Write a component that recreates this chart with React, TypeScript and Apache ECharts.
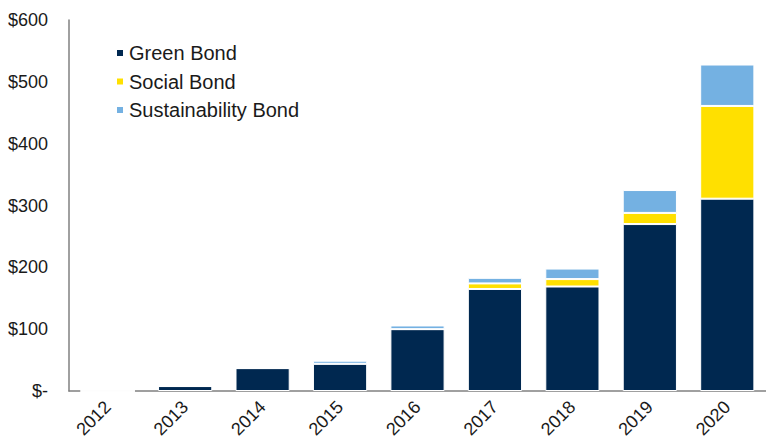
import React, { useEffect, useRef } from "react";
import * as echarts from "echarts";

const years = ["2012", "2013", "2014", "2015", "2016", "2017", "2018", "2019", "2020"];
const greenBond = [0, 8, 37, 44, 100, 165, 169, 270, 311];
const socialBond = [0, 0, 0, 0, 0, 9, 12, 18, 150];
const sustainabilityBond = [0, 0, 0, 5, 6, 9, 17, 37, 67];
const yTicks = { min: 0, max: 600, interval: 100 };

const FONT = "'Liberation Sans', Arial, sans-serif";

export default function App() {
  const ref = useRef<HTMLDivElement>(null);
  useEffect(() => {
    if (!ref.current) return;
    const chart = echarts.init(ref.current, undefined, { renderer: "svg" });
    const barBase = {
      type: "bar" as const,
      stack: "total",
      barCategoryGap: "30%",
      itemStyle: { borderColor: "#ffffff", borderWidth: 1 },
    };
    chart.setOption({
      animation: false,
      textStyle: { fontFamily: FONT },
      grid: { left: 69, right: -7, top: 20, bottom: 52, containLabel: false },
      legend: {
        orient: "vertical",
        left: 110,
        top: 38,
        icon: "rect",
        itemWidth: 8,
        itemHeight: 8,
        itemGap: 8.5,
        textStyle: { fontSize: 20, color: "#1a1a1a", fontFamily: FONT, lineHeight: 20 },
        data: ["Green Bond", "Social Bond", "Sustainability Bond"],
      },
      xAxis: {
        type: "category",
        data: years,
        axisLine: { show: true, lineStyle: { color: "#808080", width: 1.5 } },
        axisTick: { show: false },
        axisLabel: { rotate: 45, fontSize: 18, color: "#1a1a1a", margin: 13, fontFamily: FONT, interval: 0 },
      },
      yAxis: {
        type: "value",
        min: yTicks.min,
        max: yTicks.max,
        interval: yTicks.interval,
        axisLine: { show: true, lineStyle: { color: "#808080", width: 1.5 } },
        axisTick: { show: false },
        splitLine: { show: false },
        axisLabel: {
          fontSize: 18,
          color: "#1a1a1a",
          margin: 21,
          fontFamily: FONT,
          formatter: (v: number) => (v === 0 ? "$-" : "$" + v),
        },
      },
      series: [
        { ...barBase, name: "Green Bond", data: greenBond, itemStyle: { ...barBase.itemStyle, color: "#002850" } },
        { ...barBase, name: "Social Bond", data: socialBond, itemStyle: { ...barBase.itemStyle, color: "#FFE000" } },
        { ...barBase, name: "Sustainability Bond", data: sustainabilityBond, itemStyle: { ...barBase.itemStyle, color: "#74B1E2" } },
      ],
    });
    return () => chart.dispose();
  }, []);
  return (
    <div
      ref={ref}
      style={{ position: "absolute", left: 0, top: 0, width: 766, height: 443, background: "#fff" }}
    />
  );
}
